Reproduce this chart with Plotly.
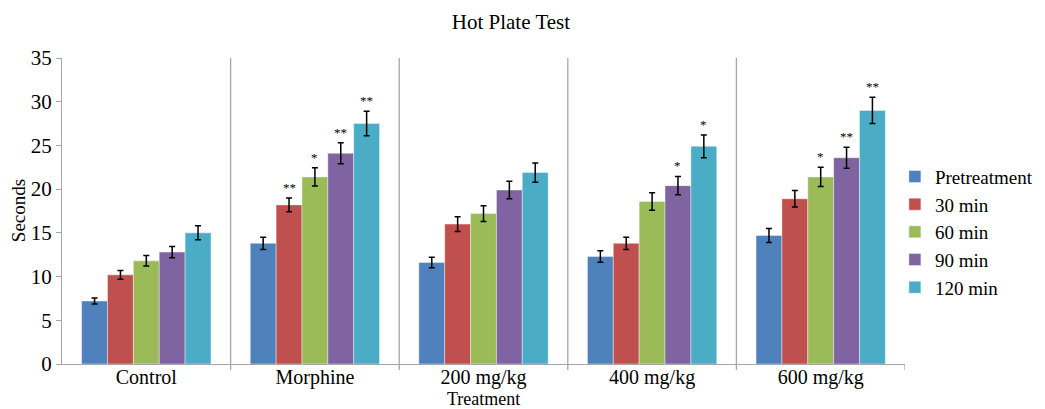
import plotly.graph_objects as go

categories = ["Control", "Morphine", "200 mg/kg", "400 mg/kg", "600 mg/kg"]
series_names = ["Pretreatment", "30 min", "60 min", "90 min", "120 min"]
pretreatment = [7.2, 13.8, 11.6, 12.3, 14.7]
min30 = [10.2, 18.2, 16.0, 13.8, 18.9]
min60 = [11.8, 21.4, 17.2, 18.6, 21.4]
min90 = [12.8, 24.1, 19.9, 20.4, 23.6]
min120 = [15.0, 27.5, 21.9, 24.9, 29.0]
pretreatment_err = [0.35, 0.7, 0.6, 0.65, 0.8]
min30_err = [0.5, 0.8, 0.85, 0.7, 0.95]
min60_err = [0.6, 1.05, 0.9, 1.0, 1.1]
min90_err = [0.65, 1.2, 1.0, 1.05, 1.2]
min120_err = [0.8, 1.4, 1.1, 1.3, 1.5]
pretreatment_sig = ["", "", "", "", ""]
min30_sig = ["", "**", "", "", ""]
min60_sig = ["", "*", "", "", "*"]
min90_sig = ["", "**", "", "*", "**"]
min120_sig = ["", "**", "", "*", "**"]

values = [pretreatment, min30, min60, min90, min120]
errors = [pretreatment_err, min30_err, min60_err, min90_err, min120_err]
sigs = [pretreatment_sig, min30_sig, min60_sig, min90_sig, min120_sig]
colors = ["#4F81BD", "#C0504D", "#9BBB59", "#8064A2", "#4BACC6"]

FONT = "Liberation Serif"
bargap = 0.233

fig = go.Figure()
for name, v, e, c in zip(series_names, values, errors, colors):
    fig.add_trace(go.Bar(
        name=name, x=categories, y=v,
        marker=dict(color=c, line=dict(color="rgba(255,255,255,0.5)", width=0.8)),
        error_y=dict(type="data", array=e, color="black", thickness=1.5, width=3),
    ))

n = len(series_names)
slot = (1 - bargap) / n
annotations = []
for j, (v, e, s) in enumerate(zip(values, errors, sigs)):
    for i, txt in enumerate(s):
        if txt:
            annotations.append(dict(
                x=i + (j - (n - 1) / 2) * slot, y=v[i] + e[i], xref="x", yref="y",
                text=txt, showarrow=False, yanchor="bottom", yshift=1,
                font=dict(family=FONT, size=13, color="black"),
            ))
annotations.append(dict(text="Treatment", xref="paper", yref="paper", x=0.5, y=-0.116,
                        xanchor="center", yanchor="middle", showarrow=False,
                        font=dict(family=FONT, size=18, color="black")))
annotations.append(dict(text="Seconds", xref="paper", yref="paper", x=-0.052, y=0.5,
                        xanchor="center", yanchor="middle", showarrow=False, textangle=-90,
                        font=dict(family=FONT, size=19, color="black")))

shapes = []
for k in range(len(categories) - 1):
    shapes.append(dict(type="line", xref="x", yref="paper", x0=k + 0.5, x1=k + 0.5,
                       y0=-0.02, y1=1, line=dict(color="#A6A6A6", width=1.3)))
shapes.append(dict(type="line", xref="x", yref="paper", x0=len(categories) - 0.5,
                   x1=len(categories) - 0.5, y0=-0.02, y1=0,
                   line=dict(color="#A6A6A6", width=1.3)))

fig.update_layout(
    width=1037, height=401,
    barmode="group", bargap=bargap, bargroupgap=0,
    paper_bgcolor="white", plot_bgcolor="white",
    margin=dict(l=54, r=140, t=50, b=45, autoexpand=False),
    font=dict(family=FONT, size=20, color="black"),
    title=dict(text="Hot Plate Test", x=0.485, xanchor="center", y=0.965, yanchor="middle",
               font=dict(family=FONT, size=21, color="black")),
    legend=dict(x=0.988, xanchor="left", y=0.431, yanchor="middle",
                font=dict(family=FONT, size=19), tracegroupgap=0,
                itemwidth=30, bgcolor="rgba(0,0,0,0)"),
    annotations=annotations,
    shapes=shapes,
    xaxis=dict(showline=True, linecolor="#A6A6A6", linewidth=1.3, ticks="",
               showgrid=False, range=[-0.5, len(categories) - 0.5],
               tickfont=dict(family=FONT, size=20), automargin=False,
               ticklabelstandoff=-5),
    yaxis=dict(range=[0, 35], dtick=5, showline=True, linecolor="#A6A6A6", linewidth=1.3,
               ticks="outside", ticklen=5, tickcolor="#A6A6A6", showgrid=False, zeroline=False,
               tickfont=dict(family=FONT, size=21), automargin=False),
    showlegend=True,
)

fig.write_html("out.html")
